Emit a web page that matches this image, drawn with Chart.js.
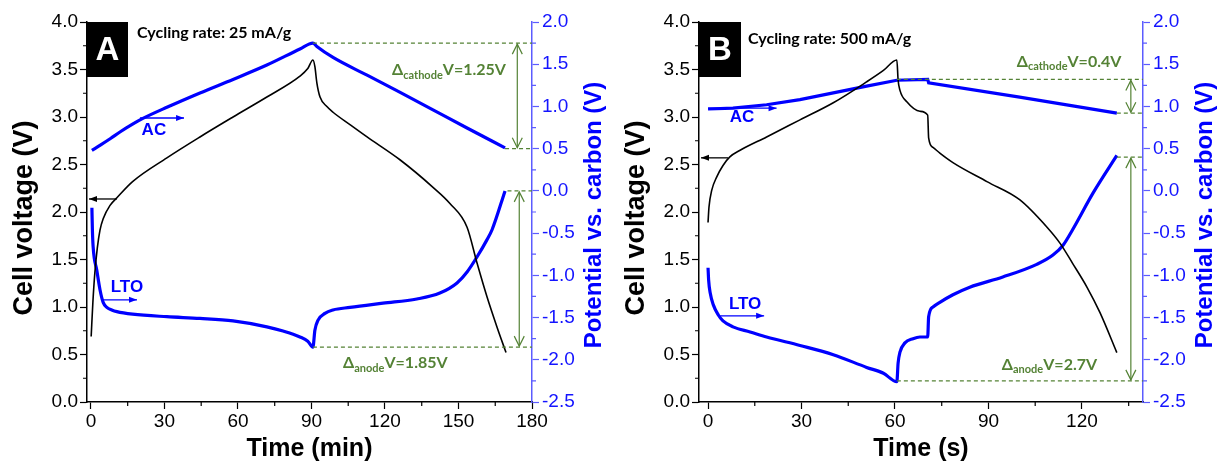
<!DOCTYPE html>
<html>
<head>
<meta charset="utf-8">
<script src="https://cdn.jsdelivr.net/npm/chart.js@4.4.1/dist/chart.umd.min.js"></script>
<style>
  html, body { margin: 0; padding: 0; background: #fff; }
  #wrap { position: relative; width: 1219px; height: 462px; overflow: hidden; }
  canvas { position: absolute; top: 0; }
</style>
</head>
<body>
<div id="wrap">
  <canvas id="chartA" width="612" height="462" style="left:0"></canvas>
  <canvas id="chartB" width="607" height="462" style="left:612px"></canvas>
</div>
<script>
// ---- panel A : 25 mA/g, time in min ----
const aCellT = [0.1, 0.8, 1.6, 2.6, 3.7, 5, 7.8, 10.6, 17, 31, 44.5, 58, 71.8, 85.3, 88.5, 90.6,
                91.4, 92.2, 93.5, 96.3, 98.8, 105.7, 112.7, 126.1, 139.6, 146.5, 153.5, 157.6, 161.6, 165.7, 169.4];
const aCellV = [0.69, 1.05, 1.36, 1.62, 1.81, 1.93, 2.07, 2.15, 2.32, 2.57, 2.79, 3.00, 3.21, 3.43, 3.51, 3.60,
                3.53, 3.36, 3.21, 3.11, 3.05, 2.92, 2.79, 2.55, 2.26, 2.09, 1.84, 1.46, 1.11, 0.79, 0.52];
const aAcT = [0.4, 4, 8, 12, 17, 21, 31, 44.5, 58, 71.8, 85.3, 90.6, 92.2, 98.8, 112.7, 126, 139.6, 153.5, 169];
const aAcV = [0.48, 0.545, 0.62, 0.70, 0.79, 0.855, 0.99, 1.16, 1.32, 1.49, 1.68, 1.75, 1.71, 1.58, 1.37, 1.17, 0.96, 0.745, 0.51];
const aLtoT = [0.4, 0.6, 0.9, 2.4, 3.7, 5, 6.5, 8.5, 10.6, 17, 31, 44.5, 58, 71.8, 78.4, 85.3, 88.5, 90.6,
               91.4, 92.7, 95.5, 98.8, 105.7, 119.2, 133, 142.4, 149.4, 153.5, 157.6, 161.6, 163.7, 169];
const aLtoV = [-0.20, -0.46, -0.66, -0.94, -1.17, -1.32, -1.38, -1.41, -1.43, -1.46, -1.49, -1.51, -1.54, -1.61, -1.66, -1.73, -1.78, -1.85,
               -1.65, -1.53, -1.45, -1.41, -1.38, -1.33, -1.28, -1.21, -1.09, -0.96, -0.78, -0.58, -0.46, 0.0];

// ---- panel B : 500 mA/g, time in s ----
const bCellT = [0, 0.3, 1.2, 2.8, 4.8, 7, 10.3, 18.8, 29.5, 40.2, 50.9, 56.3, 60.6,
                61, 61.6, 63.8, 68, 70.5, 70.8, 72.2, 74.4, 78.6, 89.5, 100, 108.8, 113, 117, 121.6, 125.8, 131.2];
const bCellV = [1.89, 2.05, 2.23, 2.37, 2.49, 2.58, 2.65, 2.79, 2.97, 3.15, 3.37, 3.49, 3.60,
                3.39, 3.28, 3.16, 3.06, 3.02, 2.78, 2.68, 2.62, 2.52, 2.32, 2.13, 1.84, 1.67, 1.46, 1.21, 0.94, 0.52];
const bAcT = [0, 8, 18.8, 29.5, 40.2, 50.9, 60.6, 70.5, 70.8, 100, 131.2];
const bAcV = [0.97, 0.98, 1.02, 1.08, 1.16, 1.24, 1.31, 1.32, 1.28, 1.11, 0.92];
const bLtoT = [0, 0.2, 0.7, 1.7, 3.3, 4.8, 8, 13.5, 18.8, 29.5, 40.2, 50.9, 56.3, 60.6,
               61, 61.6, 63.2, 65.8, 68, 70.5, 70.8, 72.2, 74.4, 78.6, 84, 94.6, 105.5, 110.7, 114, 117, 123.5, 131.2];
const bLtoV = [-0.91, -1.06, -1.21, -1.35, -1.47, -1.54, -1.61, -1.67, -1.73, -1.83, -1.94, -2.09, -2.16, -2.26,
               -2.04, -1.91, -1.80, -1.75, -1.73, -1.73, -1.49, -1.375, -1.32, -1.23, -1.14, -1.02, -0.87, -0.76, -0.64, -0.46, -0.03, 0.42];

// ---- tick labels ----
const aTimeTicks = [0, 30, 60, 90, 120, 150, 180];
const bTimeTicks = [0, 30, 60, 90, 120];
const cellTicks = [0, 0.5, 1.0, 1.5, 2.0, 2.5, 3.0, 3.5, 4.0];
const potTicks = [-2.5, -2.0, -1.5, -1.0, -0.5, 0.0, 0.5, 1.0, 1.5, 2.0];

const BLUE = '#0000ff';
const AXBLUE = '#5c5cff';
const GREEN = '#548235';
const SANS = '"Liberation Sans", Arial, sans-serif';
const CAL = 'Lato, "Noto Sans", sans-serif';

function pts(ts, vs) {
    return ts.map((t, i) => ({ x: t, y: vs[i] }));
}

function arrowHead(ctx, x, y, dx, dy, len, hw, filled) {
    const ux = dx, uy = dy, px = -uy, py = ux;
    ctx.beginPath();
    ctx.moveTo(x - ux * len + px * hw, y - uy * len + py * hw);
    ctx.lineTo(x, y);
    ctx.lineTo(x - ux * len - px * hw, y - uy * len - py * hw);
    if (filled) { ctx.closePath(); ctx.fill(); } else ctx.stroke();
}

function hArrow(ctx, x1, x2, y, color, filled) {
    ctx.strokeStyle = color; ctx.fillStyle = color; ctx.lineWidth = 1.3;
    ctx.beginPath(); ctx.moveTo(x1, y); ctx.lineTo(x2, y); ctx.stroke();
    arrowHead(ctx, x2, y, x2 > x1 ? 1 : -1, 0, 8, 3, filled);
}

function deltaText(ctx, x, y, sub, rest) {
    ctx.fillStyle = GREEN;
    ctx.textAlign = 'left'; ctx.textBaseline = 'middle';
    ctx.font = 'bold 16px ' + CAL;
    ctx.fillText('\u0394', x, y);
    x += ctx.measureText('\u0394').width;
    ctx.font = 'bold 11px ' + CAL;
    ctx.fillText(sub, x, y + 5);
    x += ctx.measureText(sub).width;
    ctx.font = 'bold 16px ' + CAL;
    ctx.fillText(rest, x, y);
}

function decor(cfg) {
    return {
        id: 'decor',
        afterDraw(chart) {
            const { ctx, chartArea: ca } = chart;
            const X = chart.scales.x, Y = chart.scales.y, Y2 = chart.scales.y2;
            ctx.save();

            // minor ticks
            ctx.lineWidth = 1.2;
            ctx.strokeStyle = '#000';
            ctx.beginPath();
            for (let v = 15; v < X.max; v += 30) {
                const px = X.getPixelForValue(v);
                ctx.moveTo(px, ca.bottom); ctx.lineTo(px, ca.bottom + 4);
            }
            for (let v = 0.25; v < 4; v += 0.5) {
                const py = Y.getPixelForValue(v);
                ctx.moveTo(ca.left - 4, py); ctx.lineTo(ca.left, py);
            }
            ctx.stroke();
            ctx.strokeStyle = AXBLUE;
            ctx.beginPath();
            for (let v = -2.25; v < 2; v += 0.5) {
                const py = Y2.getPixelForValue(v);
                ctx.moveTo(ca.right, py); ctx.lineTo(ca.right + 4, py);
            }
            ctx.stroke();

            // axis titles
            ctx.textAlign = 'center'; ctx.textBaseline = 'middle';
            ctx.fillStyle = '#000';
            ctx.font = 'bold 27px ' + SANS;
            ctx.save(); ctx.translate(25, 218); ctx.rotate(-Math.PI / 2);
            ctx.fillText('Cell voltage (V)', 0, 0); ctx.restore();
            ctx.font = 'bold 25px ' + SANS;
            ctx.fillText(cfg.xTitle, (ca.left + ca.right) / 2, 449);
            ctx.fillStyle = BLUE;
            ctx.font = 'bold 24px ' + SANS;
            ctx.save(); ctx.translate(ca.right + 62, 215); ctx.rotate(-Math.PI / 2);
            ctx.fillText('Potential vs. carbon (V)', 0, 0); ctx.restore();

            // panel letter
            ctx.fillStyle = '#000';
            ctx.fillRect(ca.left, ca.top, cfg.boxW, 55);
            ctx.fillStyle = '#fff';
            ctx.font = 'bold 33px ' + SANS;
            ctx.fillText(cfg.letter, ca.left + cfg.boxW / 2, ca.top + 29);

            // cycling rate
            ctx.fillStyle = '#000';
            ctx.textAlign = 'left';
            ctx.font = 'bold 16px ' + CAL;
            ctx.fillText(cfg.rate, X.getPixelForValue(cfg.rateAt[0]), Y.getPixelForValue(cfg.rateAt[1]));

            // AC / LTO labels and arrows
            ctx.textAlign = 'center';
            ctx.fillStyle = BLUE;
            ctx.font = 'bold 17px ' + SANS;
            ctx.fillText('AC', X.getPixelForValue(cfg.acLabel[0]), Y2.getPixelForValue(cfg.acLabel[1]));
            ctx.fillText('LTO', X.getPixelForValue(cfg.ltoLabel[0]), Y2.getPixelForValue(cfg.ltoLabel[1]));
            hArrow(ctx, X.getPixelForValue(cfg.acArrow[0]), X.getPixelForValue(cfg.acArrow[1]),
                Y2.getPixelForValue(cfg.acArrow[2]), BLUE, true);
            hArrow(ctx, X.getPixelForValue(cfg.ltoArrow[0]), X.getPixelForValue(cfg.ltoArrow[1]),
                Y2.getPixelForValue(cfg.ltoArrow[2]), BLUE, true);
            hArrow(ctx, X.getPixelForValue(cfg.cellArrow[0]), ca.left + 2,
                Y.getPixelForValue(cfg.cellArrow[1]), '#000', true);

            // green delta markers
            ctx.strokeStyle = GREEN; ctx.lineWidth = 1.2;
            ctx.setLineDash([4, 3]);
            ctx.beginPath();
            cfg.dashes.forEach(d => {
                const py = Y2.getPixelForValue(d[1]);
                ctx.moveTo(X.getPixelForValue(d[0]), py); ctx.lineTo(ca.right, py);
            });
            ctx.stroke();
            ctx.setLineDash([]);
            cfg.spans.forEach(s => {
                const px = X.getPixelForValue(s[0]);
                const p1 = Y2.getPixelForValue(s[1]), p2 = Y2.getPixelForValue(s[2]);
                ctx.beginPath(); ctx.moveTo(px, p1 + 1); ctx.lineTo(px, p2 - 1); ctx.stroke();
                arrowHead(ctx, px, p1 + 1, 0, -1, 10, 5, false);
                arrowHead(ctx, px, p2 - 1, 0, 1, 10, 5, false);
            });
            cfg.deltas.forEach(d => {
                deltaText(ctx, X.getPixelForValue(d[0]), Y2.getPixelForValue(d[1]), d[2], d[3]);
            });

            ctx.restore();
        }
    };
}

function makeChart(id, cfg) {
    const axisW = cfg.width;
    const acLine = cfg.acStraight ? { cubicInterpolationMode: 'default', tension: 0 } : {};
    return new Chart(document.getElementById(id), {
        type: 'line',
        data: {
            datasets: [
                { data: pts(cfg.cellT, cfg.cellV), yAxisID: 'y', borderColor: '#000', borderWidth: 1.6 },
                Object.assign({ data: pts(cfg.acT, cfg.acV), yAxisID: 'y2', borderColor: BLUE, borderWidth: 3.2 }, acLine),
                { data: pts(cfg.ltoT, cfg.ltoV), yAxisID: 'y2', borderColor: BLUE, borderWidth: 3.2 }
            ]
        },
        options: {
            responsive: false,
            animation: false,
            elements: {
                point: { radius: 0 },
                line: { cubicInterpolationMode: 'monotone', fill: false }
            },
            layout: { padding: { top: 22, left: 0, right: 0, bottom: 0 } },
            plugins: { legend: { display: false }, tooltip: { enabled: false } },
            scales: {
                x: {
                    type: 'linear', position: 'bottom',
                    min: cfg.xMin, max: cfg.xMax,
                    afterBuildTicks: s => { s.ticks = cfg.xTicks.map(v => ({ value: v })); },
                    afterFit: s => { s.height = 60; },
                    grid: { drawOnChartArea: false, drawTicks: true, tickLength: 7, color: '#000', tickWidth: 1.2 },
                    border: { display: true, color: '#000', width: 1.5 },
                    ticks: { color: '#000', font: { family: SANS, size: 19 }, padding: 1, maxRotation: 0, autoSkip: false,
                        callback: v => String(v) }
                },
                y: {
                    position: 'left', min: 0, max: 4,
                    afterBuildTicks: s => { s.ticks = cellTicks.map(v => ({ value: v })); },
                    afterFit: s => { s.width = 87; },
                    grid: { drawOnChartArea: false, drawTicks: true, tickLength: 7, color: '#000', tickWidth: 1.2 },
                    border: { display: true, color: '#000', width: 1.5 },
                    ticks: { color: '#000', font: { family: SANS, size: 19 }, padding: 2, autoSkip: false,
                        callback: v => v.toFixed(1) }
                },
                y2: {
                    position: 'right', min: -2.5, max: 2,
                    afterBuildTicks: s => { s.ticks = potTicks.map(v => ({ value: v })); },
                    afterFit: s => { s.width = axisW; },
                    grid: { drawOnChartArea: false, drawTicks: true, tickLength: 7, color: AXBLUE, tickWidth: 1.2 },
                    border: { display: true, color: AXBLUE, width: 1.5 },
                    ticks: { color: '#1414ff', font: { family: SANS, size: 19 }, padding: 3, autoSkip: false,
                        callback: v => v.toFixed(1) }
                }
            }
        },
        plugins: [decor(cfg)]
    });
}

makeChart('chartA', {
    cellT: aCellT, cellV: aCellV, acT: aAcT, acV: aAcV, ltoT: aLtoT, ltoV: aLtoV,
    xMin: -1.6, xMax: 180, xTicks: aTimeTicks, width: 80,
    xTitle: 'Time (min)', letter: 'A', boxW: 41,
    rate: 'Cycling rate: 25 mA/g', rateAt: [18.8, 3.89],
    acLabel: [25.7, 0.72], acArrow: [20, 38, 0.863],
    ltoLabel: [14.7, -1.14], ltoArrow: [4.9, 18.8, -1.29],
    cellArrow: [10.6, 2.137],
    dashes: [[90.6, 1.75], [169, 0.5], [170, 0.0], [90.6, -1.85]],
    spans: [[174, 1.75, 0.5], [174.8, 0.0, -1.85]],
    deltas: [[122.9, 1.43, 'cathode', 'V=1.25V'], [102.9, -2.04, 'anode', 'V=1.85V']]
});

makeChart('chartB', {
    cellT: bCellT, cellV: bCellV, acT: bAcT, acV: bAcV, ltoT: bLtoT, ltoV: bLtoV,
    xMin: -2.9, xMax: 139.6, xTicks: bTimeTicks, width: 76, acStraight: true,
    xTitle: 'Time (s)', letter: 'B', boxW: 42,
    rate: 'Cycling rate: 500 mA/g', rateAt: [12.8, 3.82],
    acLabel: [10.9, 0.875], acArrow: [0, 22, 0.98],
    ltoLabel: [11.9, -1.34], ltoArrow: [3.9, 18, -1.48],
    cellArrow: [6.4, 2.57],
    dashes: [[60.6, 1.32], [131.2, 0.92], [131.2, 0.40], [60.6, -2.25]],
    spans: [[135.7, 1.32, 0.92], [135.7, 0.40, -2.25]],
    deltas: [[99.1, 1.53, 'cathode', 'V=0.4V'], [94.3, -2.06, 'anode', 'V=2.7V']]
});
</script>
</body>
</html>
